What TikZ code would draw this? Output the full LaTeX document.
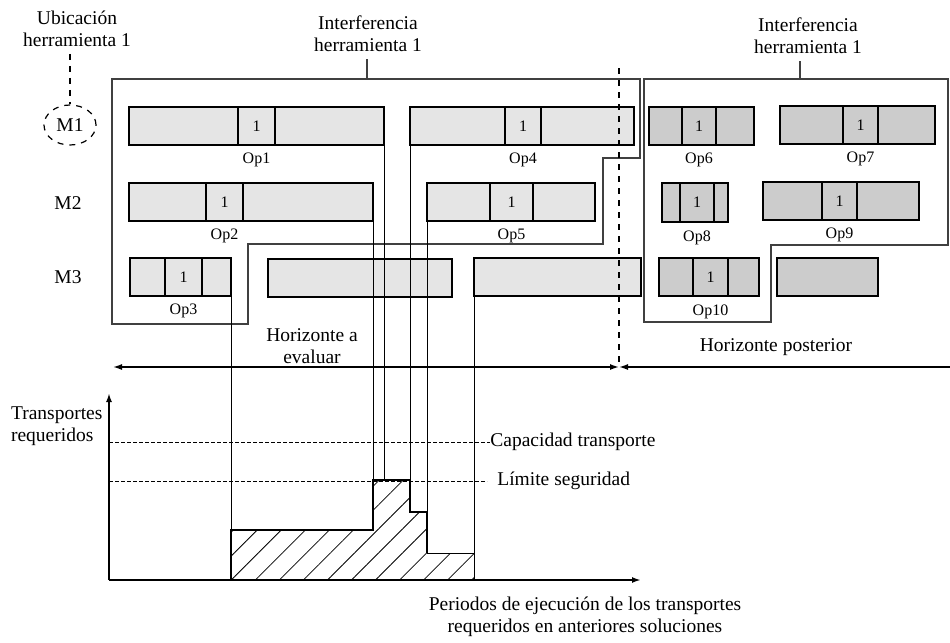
\documentclass[tikz,border=0pt]{standalone}
\usepackage{fontspec}
\setmainfont{Liberation Serif}
\usetikzlibrary{positioning,fit,shapes.geometric,patterns.meta,arrows.meta}

\colorlet{evalfill}{black!10}
\colorlet{postfill}{black!20}
\colorlet{zoneline}{black!75}

\tikzset{
  font={\fontsize{9.75pt}{11pt}\selectfont},
  bar/.style={draw, line width=1pt, inner sep=0pt, outer sep=0pt},
  seg/.style={draw, line width=0.6pt, inner sep=0pt, outer sep=0pt},
  oplbl/.style={inner sep=0pt, font={\fontsize{8pt}{9pt}\selectfont}},
  zone/.style={draw=zoneline, line width=0.75pt},
  guide/.style={line width=0.45pt},
  level/.style={line width=0.45pt, dash pattern=on 2pt off 1pt},
  axis/.style={line width=1pt, -{Latex[length=4.5pt,width=3pt]}},
  hz/.style={line width=0.75pt},
  load/.style={line width=1pt, line join=miter}
}

% one operation: name, fill, x0, x1, x2, x3, ytop, ybottom
% the middle part (x1..x2) holds the tool number, the name goes under it
\newcommand{\opbar}[8]{%
  \node[bar, fill=#2, fit={(#3,#7) (#6,#8)}] (#1bar) {};
  \node[seg, fit={(#4,#7) (#5,#8)}] (#1) {};
  \node[oplbl] at (#1.center) {1};
  \node[oplbl, below=4pt of #1] {#1};
}

\begin{document}
\begin{tikzpicture}[x=0.5pt, y=-0.5pt]
\useasboundingbox (0,0) rectangle (950,643);

% interference zones of tool 1
\draw[zone] (112,79) -- (640,79) -- (640,158) -- (603,158) -- (603,244)
  -- (248,244) -- (248,324) -- (112,324) -- cycle;
\draw[zone] (644,79) -- (948,79) -- (948,245) -- (771,245) -- (771,322)
  -- (644,322) -- cycle;
\coordinate (tick1) at (367,79);
\coordinate (tick2) at (800,79);
\node[align=center] (int1) at (368,34) {Interferencia\\herramienta 1};
\node[align=center] (int2) at (808,36) {Interferencia\\herramienta 1};
\draw[zone] (int1.south -| tick1) -- (tick1);
\draw[zone] (int2.south -| tick2) -- (tick2);

% machines
\node[align=center] (ubic) at (77,29) {Ubicación\\herramienta 1};
\node[draw, dashed, ellipse, line width=0.6pt, inner sep=0pt,
  minimum width=26pt, minimum height=20pt] (M1) at (70,125) {M1};
\draw[dashed, line width=0.6pt] (M1.north |- ubic.south) -- (M1.north);
\node (M2) at (68,203) {M2};
\node (M3) at (68,277) {M3};

% operations, horizon being evaluated
\opbar{Op1}{evalfill}{129}{238}{275}{384}{107}{145}
\opbar{Op4}{evalfill}{410}{505}{541}{634}{107}{145}
\opbar{Op2}{evalfill}{129}{206}{243}{373}{183}{221}
\opbar{Op5}{evalfill}{427}{490}{533}{595}{183}{221}
\opbar{Op3}{evalfill}{130}{165}{202}{231}{258}{296}
\node[bar, fill=evalfill, fit={(268,259) (452,297)}] (m3a) {};
\node[bar, fill=evalfill, fit={(474,258) (641,296)}] (m3b) {};

% operations, later horizon
\opbar{Op6}{postfill}{649}{682}{716}{754}{107}{145}
\opbar{Op7}{postfill}{780}{843}{878}{935}{106}{144}
\opbar{Op8}{postfill}{662}{680}{714}{728}{183}{222}
\opbar{Op9}{postfill}{763}{822}{857}{919}{182}{220}
\opbar{Op10}{postfill}{659}{693}{728}{759}{258}{296}
\node[bar, fill=postfill, fit={(777,258) (878,296)}] (m3c) {};

% horizons
\coordinate (cut) at (619,367);
\coordinate (hl) at (113,367);
\coordinate (hr) at (950,367);
\draw[dashed, line width=0.6pt] (619,68) -- (cut);
\draw[hz, {Latex[length=4.5pt,width=3pt]}-{Latex[length=4.5pt,width=3pt]}] (hl) -- (cut);
\draw[hz, {Latex[length=4.5pt,width=3pt]}-] (cut) -- (hr);
\node[align=center] (hev) at (312,346) {Horizonte a\\evaluar};
\node (hpo) at (776,347) {Horizonte posterior};

% transport load chart
\coordinate (o) at (109,580);
\coordinate (ytop) at (109,393);
\coordinate (xend) at (641,580);
\node[align=left, anchor=west] (ylab) at (4,426) {Transportes\\requeridos};
\node[anchor=west, inner sep=0pt] (cap) at (490,442) {Capacidad transporte};
\node[anchor=west, inner sep=0pt] (lim) at (497,481) {Límite seguridad};
\draw[level] (o |- cap.west) -- (cap.west);
\draw[level, shorten >=5pt] (o |- lim.west) -- (lim.west);

\path[pattern={Lines[angle=45, distance=8.5pt, line width=0.4pt]}]
  (231,580) -- (231,530) -- (373,530) -- (373,480) -- (410,480) -- (410,512)
  -- (427,512) -- (427,553) -- (474,553) -- (474,580) -- cycle;
\draw[load] (231,580) -- (231,530) -- (373,530) -- (373,480) -- (410,480)
  -- (410,512) -- (427,512) -- (427,553);
\draw[guide] (427,553) -- (474,553);

% guides from the operations down to the load
\draw[guide] (Op3bar.south east) -- (Op3bar.south east |- o);
\draw[guide] (Op2bar.south east) -- (Op2bar.south east |- lim.west);
\draw[guide] (Op1bar.south east) -- (Op1bar.south east |- lim.west);
\draw[guide] (Op4bar.south west) -- (Op4bar.south west |- lim.west);
\draw[guide] (Op5bar.south west) -- (427,512);
\draw[guide] (m3b.south west) -- (m3b.south west |- o);

\draw[axis] (o) -- (ytop);
\draw[axis] (o) -- (xend);
\node[align=center] (xlab) at (585,617)
  {Periodos de ejecución de los transportes\\requeridos en anteriores soluciones};
\end{tikzpicture}
\end{document}
